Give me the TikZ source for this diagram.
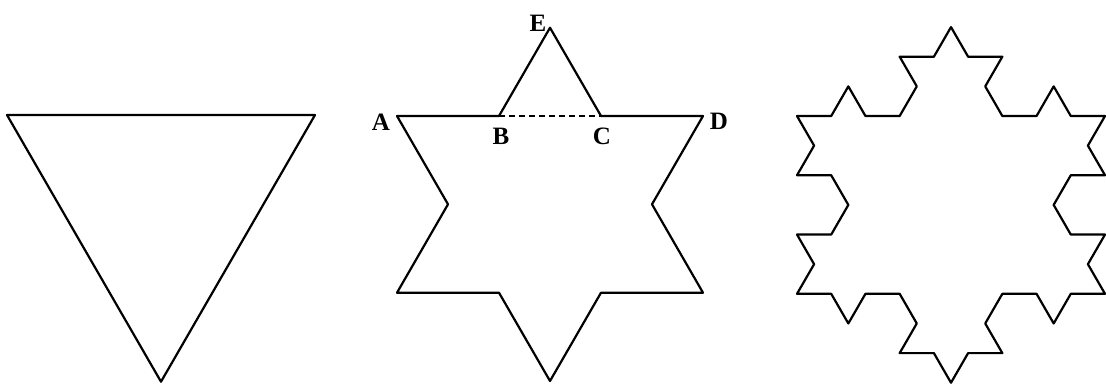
\documentclass[tikz,border=0pt]{standalone}
\usepackage{fontspec}
\setmainfont{Liberation Serif}
\begin{document}
\begin{tikzpicture}[x=1pt,y=1pt,
  outline/.style={draw=black,line width=2.2pt,line join=round},
  dashline/.style={draw=black,line width=1.8pt,dash pattern=on 5.5pt off 4.5pt},
  lbl/.style={font=\fontsize{25}{25}\selectfont\bfseries,inner sep=0pt}]
\useasboundingbox (0,0) rectangle (1106,384);
% --- first figure: triangle
\coordinate (T1) at (7,269);
\coordinate (T2) at (315,269);
\coordinate (T3) at (161,2.3);
\path[outline] (T1) -- (T2) -- (T3) -- cycle;
% --- second figure: star
\coordinate (A) at (397,268);
\coordinate (B) at (499,268);
\coordinate (C) at (601,268);
\coordinate (D) at (703,268);
\coordinate (E) at (550,356.3);
\coordinate (P1) at (652,179.7);
\coordinate (Q1) at (703,91.3);
\coordinate (P2) at (601,91.3);
\coordinate (S) at (550,3);
\coordinate (P3) at (499,91.3);
\coordinate (Q2) at (397,91.3);
\coordinate (P4) at (448,179.7);
\path[outline] (A) -- (B) -- (E) -- (C) -- (D) -- (P1) -- (Q1) -- (P2) -- (S) -- (P3) -- (Q2) -- (P4) -- cycle;
\path[dashline] (B) -- (C);
\node[lbl] (la) at (381,262) {A};
\node[lbl] (lb) at (501,248) {B};
\node[lbl] (lc) at (602,248) {C};
\node[lbl] (ld) at (719,263) {D};
\node[lbl] (le) at (538,361) {E};
% --- third figure: Koch snowflake, order 2
\coordinate (K) at (797,268);
\def\kseg{34.2222}
\path[outline] (K)
  \foreach \e in {0,-120,120}{
    \foreach \r in {0,60,-60,0,60,120,0,60,-60,0,-120,-60,0,60,-60,0}{
      -- ++(\e+\r:\kseg)
    }
  } -- cycle;
\end{tikzpicture}
\end{document}
